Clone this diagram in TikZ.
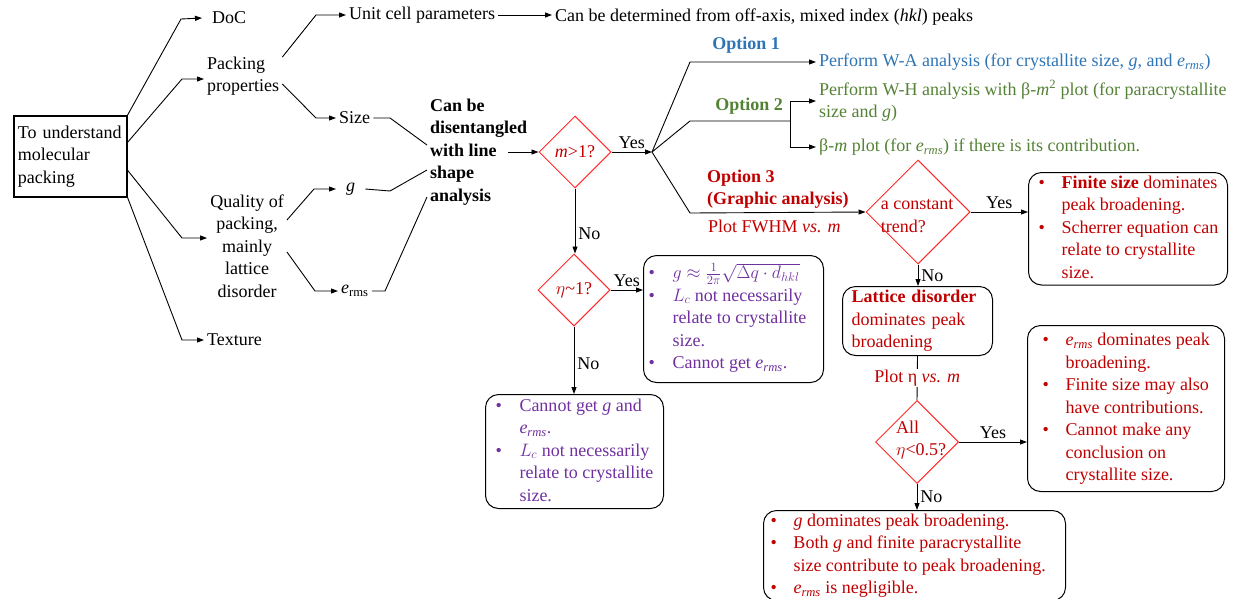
\RequirePackage{fix-cm}
\documentclass[tikz,border=0pt]{standalone}
\usepackage{fontspec}
\setmainfont{Liberation Serif}
\usetikzlibrary{arrows.meta,shapes.geometric}
\definecolor{optblue}{HTML}{2E75B6}
\definecolor{optgreen}{HTML}{548235}
\definecolor{optred}{HTML}{C00000}
\definecolor{optpurple}{HTML}{7030A0}
\definecolor{decred}{HTML}{FF2A2A}
\newcommand{\erms}{\textit{e}\textsubscript{\textit{rms}}}
\begin{document}
\begin{tikzpicture}[x=1pt, y=-1pt,
        every node/.style={font=\fontsize{18}{22.5}\selectfont, inner sep=3pt},
        arr/.style={-{Triangle[length=7pt,width=5pt]}, line width=0.9pt},
        link/.style={line width=0.9pt},
        decision/.style={diamond, aspect=1, draw=decred, line width=1pt, inner sep=0pt},
        infobox/.style={draw, rounded corners=13pt, line width=1pt, anchor=north west, inner sep=0pt}]
            \useasboundingbox (0,0) rectangle (1249,598);
            % what to look at
            \node[draw, line width=1.6pt, anchor=north west, align=left, text width=105pt, inner xsep=4pt, minimum height=81pt] (goal) at (13,115) {To understand\\molecular\\packing};
            \node[anchor=west, inner xsep=10pt] (doc) at (202,18) {DoC};
            \node[anchor=west, align=left] (packing) at (204,76) {Packing\\properties};
            \node[align=center] (quality) at (247,246) {Quality of\\packing,\\mainly\\lattice\\disorder};
            \node[anchor=west] (texture) at (204,340) {Texture};
            \draw[arr] (goal.north east) -- (181,19) -- (doc.west);
            \draw[arr] ([yshift=14pt]goal.east) -- (182,79) -- (packing.west |- 0,79);
            \draw[arr] ([yshift=-14pt]goal.east) -- (182,238) -- (quality.west |- 0,238);
            \draw[arr] (goal.south east) -- (182,340) -- (texture.west);
            % packing properties
            \node[anchor=west] (unitcell) at (346,15) {Unit cell parameters};
            \node[anchor=west] (determined) at (552,17) {Can be determined from off-axis, mixed index (\textit{hkl}) peaks};
            \draw[arr] ([yshift=19pt]packing.east) -- (316,15) -- (unitcell.west);
            \draw[arr] (unitcell.east) -- (determined.west |- unitcell.east);
            \node[anchor=west] (size) at (336,118) {Size};
            \node[anchor=west, inner xsep=10pt] (g) at (336,189) {\textit{g}};
            \node[anchor=west] (erms) at (338,291) {\textit{e}\textsubscript{rms}};
            \draw[arr] ([yshift=-8pt]packing.east) -- (316,118) -- (size.west);
            \draw[arr] ([yshift=26pt]quality.east) -- (314,189) -- (g.west);
            \draw[arr] ([yshift=-6pt]quality.east) -- (315,291) -- (erms.west);
            \node[anchor=west, align=left, font=\fontsize{18}{22.5}\selectfont\bfseries] (disent) at (427,152) {Can be\\disentangled\\with line\\shape\\analysis};
            \draw[link] (size.east) -- (390,118) -- ([yshift=7pt]disent.west);
            \draw[link] (g.east) -- (390,191) -- ([yshift=-18pt]disent.west);
            \draw[link] (erms.east) -- (385,291) -- ([yshift=-45pt]disent.west);
            % first decision
            \coordinate (wl) at (508,152);
            \node[decision, minimum size=72pt] (mdec) at (575,152) {};
            \node[text=optred] (mdec-t) at (mdec) {\textit{m}>1?};
            \draw[arr] (wl) -- (mdec.west);
            \coordinate (opt) at (652,152);
            \draw[arr] (mdec.east) -- node[above] (yes1) {Yes} (opt);
            % three options
            \node[text=optblue, font=\fontsize{18}{22.5}\selectfont\bfseries] (opt1) at (746,45) {Option 1};
            \node[text=optgreen, font=\fontsize{18}{22.5}\selectfont\bfseries] (opt2) at (749,106) {Option 2};
            \node[text=optred, anchor=west, align=left, font=\fontsize{18}{22.5}\selectfont\bfseries] (opt3) at (704,189) {Option 3\\(Graphic analysis)};
            \node[text=optred, anchor=west] (fwhm) at (705,226) {Plot FWHM \textit{vs. m}};
            \node[text=optblue, anchor=west] (wa) at (816,62) {Perform W-A analysis (for crystallite size, \textit{g}, and \erms)};
            \node[text=optgreen, anchor=west, align=left] (wh) at (816,101) {Perform W-H analysis with β-\textit{m}\textsuperscript{2} plot (for paracrystallite\\size and \textit{g})};
            \node[text=optgreen, anchor=west] (bm) at (816,147) {β-\textit{m} plot (for \erms) if there is its contribution.};
            \draw[arr] (opt) -- (690,62) -- (wa.west);
            \draw[link] (opt) -- (690,121) -- (790,121) coordinate (split);
            \draw[arr] (split) |- (wh.west);
            \draw[arr] (split) |- (bm.west);
            % graphic analysis
            \node[decision, minimum size=104pt] (tdec) at (918,212) {};
            \node[text=optred, align=left] (tdec-t) at (917,216) {a constant\\trend?};
            \draw[arr] (opt) -- (690,213) -- (tdec.west);
            \node[infobox, text=optred, minimum width=199pt, minimum height=112pt] (finbox) at (1028,172) {\begin{tabular}{@{\hspace{10pt}}p{23pt}@{}p{166pt}@{}}
                \textbullet & \textbf{Finite size} dominates\\
                & peak broadening.\\
                \textbullet & Scherrer equation can\\
                & relate to crystallite\\
                & size.
            \end{tabular}};
            \draw[arr] (tdec.east) -- node[above] (yes3) {Yes} (finbox.west |- tdec.east);
            \node[infobox, text=optred, inner xsep=9pt, text width=132pt, minimum height=69pt, align=left] (latbox) at (842,286) {\textbf{Lattice disorder}\\dominates peak\\broadening};
            \draw[arr] (tdec.south) -- node[right] (no3) {No} (tdec.south |- latbox.north);
            \node[decision, minimum size=83pt] (adec) at (917,442) {};
            \node[text=optred, anchor=west, align=left] (adec-t) at (893,440) {All\\$\eta$<0.5?};
            \draw[link] (latbox.south) -- node[fill=white, inner sep=1pt, text=optred] (ploteta) {Plot η \textit{vs. m}} (adec.north);
            \node[infobox, text=optred, minimum width=197pt, minimum height=166pt] (ermsbox) at (1027,325) {\begin{tabular}{@{\hspace{15pt}}p{23pt}@{}p{159pt}@{}}
                \textbullet & \erms{} dominates peak\\
                & broadening.\\
                \textbullet & Finite size may also\\
                & have contributions.\\
                \textbullet & Cannot make any\\
                & conclusion on\\
                & crystallite size.
            \end{tabular}};
            \draw[arr] (adec.east) -- node[above] (yes4) {Yes} (ermsbox.west |- adec.east);
            \node[infobox, text=optred, minimum width=302pt, minimum height=86pt] (gbox) at (763,510) {\begin{tabular}{@{\hspace{7pt}}p{23pt}@{}p{272pt}@{}}
                \textbullet & \textit{g} dominates peak broadening.\\
                \textbullet & Both \textit{g} and finite paracrystallite\\
                & size contribute to peak broadening.\\
                \textbullet & \erms{} is negligible.
            \end{tabular}};
            \draw[arr] (adec.south) -- node[right] (no4) {No} (adec.south |- gbox.north);
            % second decision
            \node[decision, minimum size=72pt] (edec) at (574,290) {};
            \node[text=optred] (edec-t) at (edec) {$\eta$\textasciitilde1?};
            \draw[arr] (mdec.south) -- node[right, pos=0.7] (no1) {No} (mdec.south |- edec.north);
            \node[infobox, text=optpurple, minimum width=180pt, minimum height=127pt] (gfbox) at (643,255) {\begin{tabular}{@{\hspace{5pt}}p{24pt}@{}p{151pt}@{}}
                \textbullet & $g \approx \frac{1}{2\pi}\sqrt{\Delta q\cdot d_{hkl}}$\\
                \textbullet & $L_c$ not necessarily\\
                & relate to crystallite\\
                & size.\\
                \textbullet & Cannot get \erms.
            \end{tabular}};
            \draw[arr] (edec.east) -- node[above] (yes2) {Yes} (gfbox.west |- edec.east);
            \node[infobox, text=optpurple, minimum width=178pt, minimum height=114pt] (cgbox) at (485,394) {\begin{tabular}{@{\hspace{10pt}}p{24pt}@{}p{144pt}@{}}
                \textbullet & Cannot get \textit{g} and\\
                & \erms.\\
                \textbullet & $L_c$ not necessarily\\
                & relate to crystallite\\
                & size.
            \end{tabular}};
            \draw[arr] (edec.south) -- node[right, pos=0.55] (no2) {No} (edec.south |- cgbox.north);
        \end{tikzpicture}
\end{document}
